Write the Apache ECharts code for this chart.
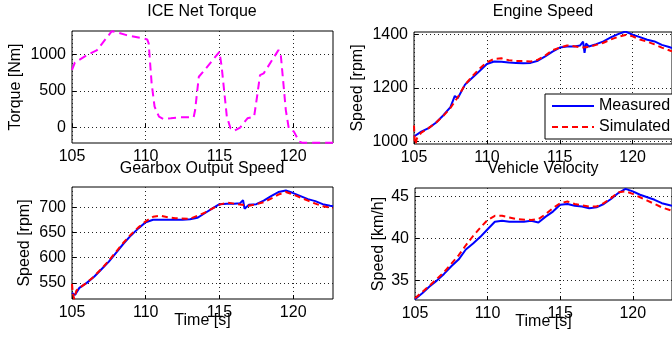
<!DOCTYPE html>
<html>
<head>
<meta charset="utf-8">
<script src="https://cdn.jsdelivr.net/npm/echarts@6/dist/echarts.min.js"></script>
<style>html,body{margin:0;padding:0;background:#fff}#c{width:672px;height:345px}</style>
</head>
<body>
<div id="c"></div>
<script>
// ---- data ----
const xTicks = [105, 110, 115, 120];
const torqueTicks = [0, 500, 1000];
const engineTicks = [1000, 1200, 1400];
const gearTicks = [550, 600, 650, 700];
const velTicks = [35, 40, 45];

const torqueT = [105,105.2,106,106.7,107.7,107.9,108.7,109.85,110.1,110.2,110.4,110.6,110.9,111.2,111.7,112.35,113.25,113.35,113.6,113.9,115,115.15,115.5,115.75,115.97,116.4,116.9,117.35,117.55,117.75,118,119,119.15,119.5,119.7,120.05,120.4,120.6,122.7];
const torque = [790,890,990,1060,1318,1310,1264,1218,1205,1150,605,286,150,118,127,141,141,240,695,764,1036,832,150,-9,-45,0,127,150,423,718,741,1059,1014,240,-9,-55,-190,-205,-205];

const engMeasT = [105,105.5,106,106.5,107,107.5,107.8,108,108.5,109,109.5,110,110.5,111,111.5,112,112.5,113,113.5,114,114.5,115,115.5,116,116.4,116.6,116.7,116.8,117,117.5,118,118.5,119,119.5,120,120.5,121,121.5,122,122.5,122.7];
const engMeas = [1019,1037,1050,1070,1097,1128,1170,1161,1212,1238,1263,1289,1298,1297,1294,1293,1292,1293,1301,1317,1335,1350,1354,1354,1358,1372,1330,1365,1354,1363,1373,1388,1400,1410,1398,1389,1379,1373,1360,1352,1348];
const engSimT = [105,105.05,105.1,105.2,105.5,106,106.5,107,107.5,108,108.5,109,109.5,110,110.5,111,111.5,112,112.5,113,113.5,114,114.5,115,115.5,116,116.5,117,117.5,118,118.5,119,119.5,120,120.5,121,121.5,122,122.5,122.7];
const engSim = [1060,1000,990,1012,1033,1050,1070,1095,1125,1165,1212,1243,1272,1295,1308,1310,1303,1300,1300,1298,1305,1320,1340,1350,1358,1355,1350,1352,1360,1368,1380,1390,1397,1392,1380,1372,1362,1350,1340,1336];

const gearMeasT = [105,105.2,105.5,106,106.5,107,107.5,108,108.5,109,109.5,110,110.5,111,111.5,112,112.5,113,113.5,114,114.5,115,115.5,116,116.4,116.6,116.7,117,117.5,118,118.5,119,119.5,120,120.5,121,121.5,122,122.5,122.7];
const gearMeas = [530,526,540,550,562,577,592,610,628,644,658,670,675,675,675,675,675,676,679,688,697,706,707,707,708,714,697,705,706,713,722,730,733,728,722,716,712,706,703,702];
const gearSimT = [105,105.05,105.15,105.3,105.5,106,106.5,107,107.5,108,108.5,109,109.5,110,110.5,111,111.5,112,113,114,115,115.5,116,117,117.5,118,118.5,119,119.5,120,120.5,121,121.5,122,122.7];
const gearSim = [548,530,518,535,540,550,563,578,594,612,630,646,660,672,681,683,680,678,677,689,705,709,707,703,706,710,717,725,730,725,719,713,707,702,698];

const velMeasT = [105,105.5,106,106.5,107,107.5,108,108.5,109,109.5,110,110.5,111,111.5,112,112.5,113,113.5,114,114.5,115,115.5,116,116.5,117,117.5,118,118.5,119,119.5,120,120.5,121,121.5,122,122.7];
const velMeas = [32.8,33.5,34.3,35.0,35.8,36.7,37.5,38.7,39.4,40.2,41.1,42.0,42.1,42.0,42.0,42.0,42.1,41.9,42.6,43.2,44.0,44.1,43.9,43.8,43.6,43.7,44.1,44.7,45.4,45.9,45.6,45.2,44.9,44.6,44.2,43.9];
const velSimT = [105,106,107,108,108.5,109,109.5,110,110.5,111,111.5,112,113,113.5,114,114.5,115,115.5,116,117,117.5,118,118.5,119,119.5,120,120.5,121,121.5,122,122.7];
const velSim = [32.9,34.4,36.0,38.0,39.2,40.3,41.3,42.2,42.7,42.7,42.5,42.3,42.2,42.3,42.9,43.6,44.2,44.4,44.1,43.8,43.8,44.2,44.8,45.5,45.6,45.3,44.9,44.5,44.1,43.7,43.3];

// ---- build ----
function zip(t, v) { return t.map((x, i) => [x, v[i]]); }
const FONT = 'Liberation Sans, Arial, sans-serif';
const grids = [
  {left: 72, top: 31, width: 261, height: 112},
  {left: 414, top: 32, width: 263, height: 112},
  {left: 72, top: 187, width: 261, height: 112},
  {left: 415, top: 188, width: 263, height: 112}
];
const dotted = {show: true, lineStyle: {color: '#222', type: [1, 3], width: 1}};
const plain = v => String(v);
function xAx(i, withName) {
  return {
    type: 'value', gridIndex: i, min: 105, max: 122.7,
    axisLine: {show: false},
    axisTick: {show: true, inside: true, length: 4, customValues: xTicks, lineStyle: {color: '#000'}},
    axisLabel: {customValues: xTicks, formatter: plain, color: '#000', fontSize: 16, fontFamily: FONT, margin: 6},
    splitLine: dotted,
    name: withName ? 'Time [s]' : '', nameLocation: 'middle', nameGap: 14, nameMoveOverlap: false,
    nameTextStyle: {color: '#000', fontSize: 16, fontFamily: FONT}
  };
}
function yAx(i, min, max, ticks, name, gap) {
  return {
    type: 'value', gridIndex: i, min: min, max: max,
    axisLine: {show: false},
    axisTick: {show: true, inside: true, length: 4, customValues: ticks, lineStyle: {color: '#000'}},
    axisLabel: {customValues: ticks, formatter: plain, color: '#000', fontSize: 16, fontFamily: FONT, margin: 6},
    splitLine: dotted,
    name: name, nameLocation: 'middle', nameGap: gap, nameMoveOverlap: false,
    nameTextStyle: {color: '#000', fontSize: 16, fontFamily: FONT}
  };
}
function meas(i, t, v) {
  return {name: 'Measured', type: 'line', xAxisIndex: i, yAxisIndex: i, data: zip(t, v),
    showSymbol: false, symbol: 'none', lineStyle: {color: '#0000ff', width: 2}, itemStyle: {color: '#0000ff'}, z: 3, animation: false};
}
function sim(i, t, v) {
  return {name: 'Simulated', type: 'line', xAxisIndex: i, yAxisIndex: i, data: zip(t, v),
    showSymbol: false, symbol: 'none', lineStyle: {color: '#ff0000', width: 2, type: [6, 4]}, itemStyle: {color: '#ff0000'}, z: 4, animation: false};
}
const titles = [
  ['ICE Net Torque', 202, 12], ['Engine Speed', 543, 12],
  ['Gearbox Output Speed', 202, 169], ['Vehicle Velocity', 543, 169]
];
const option = {
  animation: false,
  backgroundColor: '#fff',
  grid: grids.map(g => Object.assign({show: true, borderColor: '#000', borderWidth: 1, backgroundColor: '#fff'}, g)),
  xAxis: [xAx(0, false), xAx(1, false), xAx(2, true), xAx(3, true)],
  yAxis: [
    yAx(0, -210, 1320, torqueTicks, 'Torque [Nm]', 48),
    yAx(1, 991, 1408, engineTicks, 'Speed [rpm]', 48),
    yAx(2, 518, 740, gearTicks, 'Speed [rpm]', 39),
    yAx(3, 32.7, 46, velTicks, 'Speed [km/h]', 28)
  ],
  legend: {
    data: ['Measured', 'Simulated'], orient: 'vertical', left: 545, top: 94,
    itemWidth: 42, itemHeight: 12, itemGap: 5,
    itemStyle: {opacity: 0},
    padding: [4, 6], borderColor: '#000', borderWidth: 1, backgroundColor: '#fff',
    textStyle: {color: '#000', fontSize: 16, fontFamily: FONT}, selectedMode: false
  },
  graphic: titles.map(t => ({type: 'text', x: t[1], y: t[2],
    style: {text: t[0], fill: '#000', font: '16px ' + FONT, textAlign: 'center', textVerticalAlign: 'middle'}})),
  series: [
    {name: 'Torque', type: 'line', xAxisIndex: 0, yAxisIndex: 0, data: zip(torqueT, torque), showSymbol: false, symbol: 'none',
      lineStyle: {color: '#ff00ff', width: 2, type: [8, 5]}, animation: false},
    meas(1, engMeasT, engMeas), sim(1, engSimT, engSim),
    meas(2, gearMeasT, gearMeas), sim(2, gearSimT, gearSim),
    meas(3, velMeasT, velMeas), sim(3, velSimT, velSim)
  ]
};
echarts.init(document.getElementById('c'), null, {renderer: 'canvas'}).setOption(option);
</script>
</body>
</html>
